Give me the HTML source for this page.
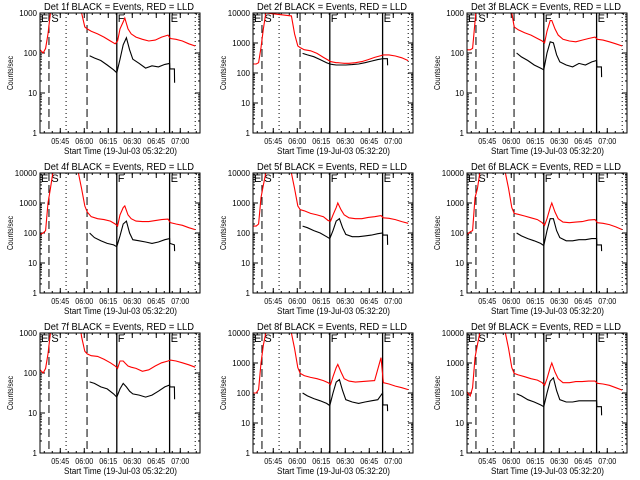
<!DOCTYPE html>
<html><head><meta charset="utf-8"><style>
html,body{margin:0;padding:0;background:#fff;}
svg{display:block;font-family:"Liberation Sans",sans-serif;}
</style></head><body>
<svg id="chart" width="640" height="480" viewBox="0 0 640 480"></svg>
<script>
// Time grid (minutes after 05:32:20)
const redTimes=[0,2,3.5,5,6.5,8,24,26,28,29.5,32,36,40,44,47,48.5,50,52,53,55,57,60,64,68,72,76,80,81.5,85,89,93,97];
const blackTimes=[31,34,38,42,46,48,50,52,54,56,58,62,66,70,74,78,81,81.2,84,84.1];
const detNames=["1f","2f","3f","4f","5f","6f","7f","8f","9f"];
const yMaxes=[1000,10000,1000,10000,10000,10000,1000,10000,10000];
const red1=[120,100,130,300,1000,3000,3000,1000,450,400,350,300,250,200,170,200,400,600,750,400,300,250,220,200,210,250,280,230,220,200,170,150];
const black1=[85,75,65,50,38,32,70,160,240,120,70,55,42,48,45,52,55,40,40,18];
const red2=[200,200,220,700,3000,10000,8000,2000,800,700,600,550,450,330,270,240,230,220,220,215,210,210,220,240,280,330,380,400,400,370,320,260];
const black2=[450,400,350,280,220,200,190,185,185,185,185,190,200,220,250,280,300,300,300,180];
const red3=[120,120,130,600,3000,5000,5000,3000,1000,450,380,320,280,230,200,180,350,650,650,400,280,220,200,190,210,230,250,220,210,190,170,150];
const black3=[100,80,65,50,42,38,100,190,180,90,60,50,45,55,50,60,65,45,45,25];
const red4=[90,100,120,1000,3000,10000,10000,3000,800,500,350,300,280,250,200,170,400,700,800,400,300,250,240,240,260,280,290,220,200,180,150,130];
const black4=[100,70,55,45,40,35,80,200,250,100,60,55,50,45,50,60,65,45,40,25];
const red5=[170,170,200,1500,4000,10000,10000,3000,800,600,550,450,400,350,260,250,400,700,1000,600,400,320,300,300,330,350,380,320,310,280,240,210];
const black5=[170,150,120,100,75,65,120,250,300,150,90,75,75,80,85,95,100,85,85,40];
const red6=[90,110,120,1500,3000,10000,10000,3000,700,450,420,370,320,280,220,180,300,700,1000,500,300,230,220,230,240,270,280,220,210,190,160,130];
const black6=[100,80,65,55,45,38,120,300,300,120,70,55,55,60,60,65,65,40,40,25];
const red7=[120,100,130,300,1000,3000,3000,800,350,300,270,260,220,180,150,130,200,200,180,150,140,130,110,120,150,180,200,210,200,180,160,140];
const black7=[60,55,45,40,30,25,40,55,45,35,30,28,25,28,35,45,50,45,45,22];
const red8=[100,100,130,1000,4000,10000,10000,3000,700,450,380,330,300,260,220,190,350,700,900,500,300,250,230,240,250,260,1500,220,200,170,150,130];
const black8=[100,80,65,55,45,38,100,230,280,120,60,50,45,50,55,60,100,40,40,25];
const red9=[110,80,150,1500,4000,10000,10000,3000,700,450,400,350,300,270,220,180,300,700,1000,500,300,220,220,240,240,250,250,210,200,180,150,125];
const black9=[95,80,60,50,40,35,100,250,320,120,60,50,50,55,55,55,55,35,35,18];
const redSeries=[red1,red2,red3,red4,red5,red6,red7,red8,red9];
const blackSeries=[black1,black2,black3,black4,black5,black6,black7,black8,black9];
const tickTimes=[12.67,27.67,42.67,57.67,72.67,87.67];
const tickLabels=["05:45","06:00","06:15","06:30","06:45","07:00"];
const dashedTimes=[5.6,29.4];
const dottedTimes=[16.3,97];
const solidTimes=[48,81];

const NS="http://www.w3.org/2000/svg";
const svg=document.getElementById('chart');
function mk(tag,attrs,parent){const e=document.createElementNS(NS,tag);for(const k in attrs)e.setAttribute(k,attrs[k]);(parent||svg).appendChild(e);return e;}
const lefts=[40,253,467],tops=[13,173,333],W=160,H=120,TMAX=100;

for(let p=0;p<9;p++){
  const L=lefts[p%3],T=tops[Math.floor(p/3)];
  const ymax=yMaxes[p],dec=Math.log10(ymax);
  const xs=t=>L+t/TMAX*W;
  const ys=v=>T+(dec-Math.log10(v))/dec*H;
  const g=mk('g',{});
  
  
  const cid='clip'+p;
  const cp=mk('clipPath',{id:cid},g);mk('rect',{x:L,y:T,width:W,height:H},cp);
  const tt=mk('text',{x:L+4,y:T-3,'font-size':'10',fill:'#000',textLength:'150',lengthAdjust:'spacingAndGlyphs'},g);
  tt.textContent='Det '+detNames[p]+' BLACK = Events, RED = LLD';
  
  
  for(let d=0;d<=dec;d++){
    const v=Math.pow(10,d),y=ys(v);
    mk('line',{x1:L,x2:L+5,y1:y,y2:y,stroke:'#000'},g);
    mk('line',{x1:L+W-5,x2:L+W,y1:y,y2:y,stroke:'#000'},g);
    const lb=mk('text',{x:L-3,y:y+3,'font-size':'8','text-anchor':'end',fill:'#000'},g);
    lb.textContent=String(v);
    
    
    if(d<dec){for(let m=2;m<10;m++){const ym=ys(v*m);
      mk('line',{x1:L,x2:L+2,y1:ym,y2:ym,stroke:'#000'},g);
      mk('line',{x1:L+W-2,x2:L+W,y1:ym,y2:ym,stroke:'#000'},g);}}
  }
  const yt=mk('text',{x:0,y:0,'font-size':'8','text-anchor':'middle',fill:'#000',textLength:'34',lengthAdjust:'spacingAndGlyphs',transform:'translate('+(L-27)+','+(T+60)+') rotate(-90)'},g);
  yt.textContent='Counts/sec';
  
  
  for(let t=2.67;t<TMAX;t+=5){const x=xs(t);
    mk('line',{x1:x,x2:x,y1:T+H,y2:T+H-2,stroke:'#000'},g);mk('line',{x1:x,x2:x,y1:T,y2:T+2,stroke:'#000'},g);}
  tickTimes.forEach((t,i)=>{const x=xs(t);
    mk('line',{x1:x,x2:x,y1:T+H,y2:T+H-5,stroke:'#000'},g);mk('line',{x1:x,x2:x,y1:T,y2:T+5,stroke:'#000'},g);
    const lb=mk('text',{x:x-9,y:T+H+11,'font-size':'8',fill:'#000',textLength:'18',lengthAdjust:'spacingAndGlyphs'},g);
    lb.textContent=tickLabels[i];
    
    });
  const xt=mk('text',{x:L+24,y:T+H+21,'font-size':'9',fill:'#000',textLength:'113',lengthAdjust:'spacingAndGlyphs'},g);
  xt.textContent='Start Time (19-Jul-03 05:32:20)';
  
  
  dashedTimes.forEach(t=>{const l=mk('line',{x1:xs(t),x2:xs(t),y1:T,y2:T+H,stroke:'#000','stroke-dasharray':'8,4'},g);
    });
  dottedTimes.forEach(t=>{const l=mk('line',{x1:xs(t),x2:xs(t),y1:T,y2:T+H,stroke:'#000','stroke-dasharray':'1,3'},g);
    });
  solidTimes.forEach(t=>{const l=mk('line',{x1:xs(t),x2:xs(t),y1:T,y2:T+H,stroke:'#000','stroke-width':'1.3'},g);
    });
  const lab=(s,x)=>{const e=mk('text',{x:x,y:T+9,'font-size':'11',fill:'#000'},g);e.textContent=s;
    };
  lab('E S',L+1);lab('F',xs(solidTimes[0])+1);lab('E',xs(solidTimes[1])+1);
  const rp=redTimes.map((t,i)=>xs(t).toFixed(1)+','+ys(redSeries[p][i]).toFixed(1)).join(' ');
  const r=mk('polyline',{points:rp,fill:'none',stroke:'#ff0000','stroke-width':'1.1','clip-path':'url(#'+cid+')'},g);
  
  const bp=blackTimes.map((t,i)=>xs(t).toFixed(1)+','+ys(blackSeries[p][i]).toFixed(1)).join(' ');
  const b=mk('polyline',{points:bp,fill:'none',stroke:'#000','stroke-width':'1.1','clip-path':'url(#'+cid+')'},g);
  
  const f=mk('rect',{x:L,y:T,width:W,height:H,fill:'none',stroke:'#000'},g);
  
}
</script>
</body></html>
